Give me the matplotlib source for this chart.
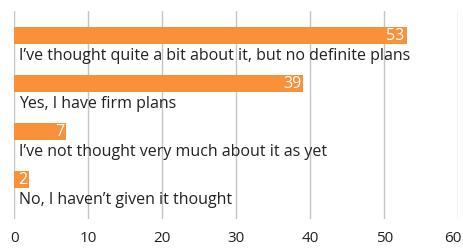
import matplotlib
matplotlib.use("Agg")
import matplotlib.pyplot as plt
from matplotlib.transforms import ScaledTranslation

labels = [
    "I\u2019ve thought quite a bit about it, but no definite plans",
    "Yes, I have firm plans",
    "I\u2019ve not thought very much about it as yet",
    "No, I haven\u2019t given it thought",
]
values = [53, 39, 7, 2]
ticks = [0, 10, 20, 30, 40, 50, 60]

orange = "#f7923a"
plt.rcParams["font.family"] = ["Open Sans", "DejaVu Sans"]

fig = plt.figure(figsize=(4.64, 2.48), dpi=100)
ax = fig.add_axes([14.5 / 464, 1 - 219 / 248, (458.3 - 14.5) / 464, 208 / 248])

pos = list(range(len(values)))
ax.barh(pos, values, height=0.344, color=orange, zorder=2)
for y, v, lab in zip(pos, values, labels):
    ax.text(v - 0.25, y + 0.01, str(v), color="white", fontsize=11.5,
            ha="right", va="center", zorder=3)
    ax.text(0.6, y + 0.515, lab, color="#222222", fontsize=11.5,
            ha="left", va="baseline", zorder=3)

ax.set_xlim(0, 60)
ax.set_ylim(3.827, -0.506)
ax.set_xticks(ticks)
ax.set_yticks([])
ax.grid(axis="x", color="#c4c4c4", linewidth=1, zorder=0)
for s in ax.spines.values():
    s.set_visible(False)
ax.tick_params(axis="x", length=0, pad=9, labelsize=11, labelcolor="#222222")

# keep the last tick label inside the canvas
last = ax.get_xticklabels()[-1]
last.set_transform(last.get_transform() + ScaledTranslation(-5 / 100, 0, fig.dpi_scale_trans))

fig.savefig("out.png", dpi=100)
